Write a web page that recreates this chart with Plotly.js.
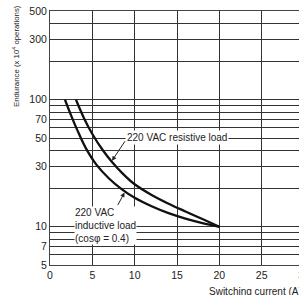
<!DOCTYPE html>
<html><head><meta charset="utf-8">
<script src="https://cdn.plot.ly/plotly-3.0.1.min.js"></script>
<style>html,body{margin:0;padding:0;overflow:hidden;background:#fff}</style>
</head><body><div id="chart"></div>
<script>
// Data
const resistX = [3.07, 4, 5, 6.2, 7.3, 8.5, 10, 12, 14, 16, 18, 20];
const resistY = [100, 72, 53.8, 40.4, 32.5, 26.6, 21.6, 17.8, 15.2, 13.2, 11.5, 10];
const inductX = [1.77, 2.5, 3.2, 4.2, 5.5, 7, 8.5, 10, 12, 14, 16, 18, 20];
const inductY = [100, 75, 58.2, 42, 30.7, 23.9, 19.7, 16.9, 14.5, 12.8, 11.6, 10.7, 10];
const xTicks = [0, 5, 10, 15, 20, 25, 30];
const yGrid = [5, 6, 7, 8, 9, 10, 20, 30, 40, 50, 60, 70, 80, 90, 100, 200, 300, 400, 500];
const yLabels = ['5', '', '7', '', '', '10', '', '30', '', '50', '', '70', '', '', '100', '', '300', '', '500'];
const resistLabel = '220 VAC resistive load';
const inductLabel = '220 VAC<br>inductive load<br>(cos\u03c6 = 0.4)';
const yTitle = 'Endurance (x 10<sup>4</sup> operations)';
const xTitle = 'Switching current (A)';

const FONT = 'Liberation Sans, Arial, sans-serif';
const INK = '#222';
const L = Math.log10;

const traces = [
  {x: inductX, y: inductY, mode: 'lines', line: {color: '#111', width: 2.3, shape: 'spline', smoothing: 1}, hoverinfo: 'skip'},
  {x: resistX, y: resistY, mode: 'lines', line: {color: '#111', width: 2.3, shape: 'spline', smoothing: 1}, hoverinfo: 'skip'}
];

const layout = {
  width: 310, height: 295,
  margin: {l: 50, r: 6, t: 11, b: 30},
  paper_bgcolor: '#fff', plot_bgcolor: '#fff',
  showlegend: false,
  font: {family: FONT, size: 10, color: INK},
  xaxis: {
    range: [0, 30], tickvals: xTicks, ticktext: xTicks.map(String),
    showgrid: true, gridcolor: '#333', gridwidth: 1,
    showline: true, linecolor: '#444', linewidth: 1, mirror: true,
    ticks: '', zeroline: false, tickfont: {size: 10.5, color: INK}
  },
  yaxis: {
    type: 'log', range: [L(5), L(500)],
    tickvals: yGrid, ticktext: yLabels,
    showgrid: true, gridcolor: '#333', gridwidth: 1,
    showline: true, linecolor: '#444', linewidth: 1, mirror: true,
    ticks: '', zeroline: false, tickfont: {size: 10.5, color: INK}
  },
  annotations: [
    {x: 8.85, y: L(50.6), xref: 'x', yref: 'y', text: resistLabel, showarrow: false,
     xanchor: 'left', yanchor: 'middle', bgcolor: '#fff', borderpad: 1, font: {size: 10, color: INK}},
    {x: 2.83, y: L(10.2), xref: 'x', yref: 'y', text: inductLabel, showarrow: false, align: 'left',
     xanchor: 'left', yanchor: 'middle', bgcolor: '#fff', borderpad: 0, font: {size: 10, color: INK}},
    {x: 7.32, y: L(33.1), xref: 'x', yref: 'y', text: '', showarrow: true, ax: 14, ay: -21,
     arrowhead: 2, arrowsize: 0.9, arrowwidth: 1, arrowcolor: INK, standoff: 0},
    {x: 8.8, y: L(18.6), xref: 'x', yref: 'y', text: '', showarrow: true, ax: -7.5, ay: 14,
     arrowhead: 2, arrowsize: 0.9, arrowwidth: 1, arrowcolor: INK, standoff: 0},
    {x: (16 - 50) / 254, y: (265 - 56) / 254, xref: 'paper', yref: 'paper', text: yTitle, showarrow: false,
     textangle: -90, xanchor: 'center', yanchor: 'middle', font: {size: 7.8, color: INK}},
    {x: (207 - 50) / 254, y: (265 - 291) / 254, xref: 'paper', yref: 'paper', text: xTitle, showarrow: false,
     xanchor: 'left', yanchor: 'middle', font: {size: 10, color: INK}}
  ]
};

Plotly.newPlot('chart', traces, layout, {staticPlot: true, displayModeBar: false});
</script></body></html>
